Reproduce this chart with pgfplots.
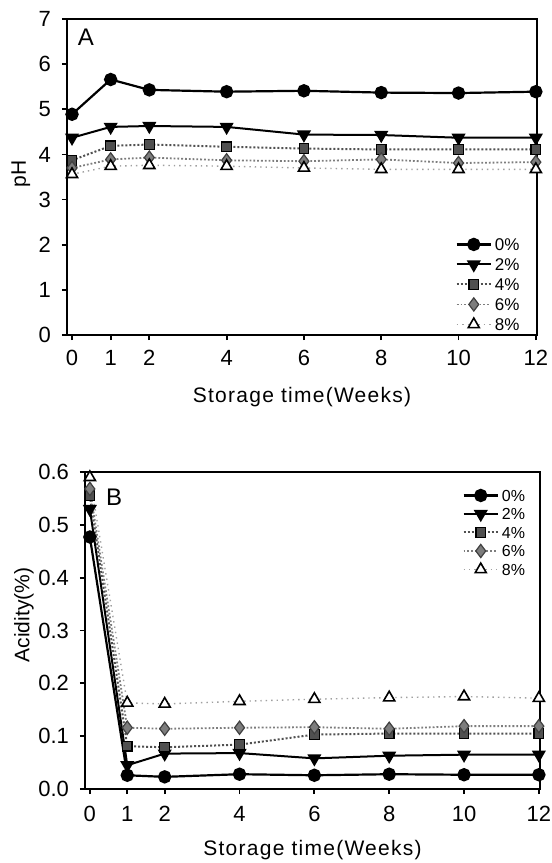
\documentclass[border=0pt]{standalone}
\usepackage{fontspec}
\setmainfont{Liberation Sans}
\newfontfamily\spaced[LetterSpace=6]{Liberation Sans}
\usepackage{pgfplots}
\usepackage{pgfplotstable}
\pgfplotsset{compat=1.18}

% pH over storage time
\pgfplotstableread{
week p0   p2   p4   p6   p8
0    4.89 4.37 3.87 3.70 3.56
1    5.66 4.61 4.19 3.89 3.74
2    5.43 4.63 4.22 3.93 3.76
4    5.39 4.61 4.17 3.87 3.74
6    5.41 4.44 4.13 3.85 3.70
8    5.37 4.43 4.11 3.89 3.67
10   5.36 4.37 4.11 3.81 3.67
12   5.39 4.37 4.11 3.83 3.67
}\phdata

% acidity over storage time
\pgfplotstableread{
week p0    p2    p4    p6    p8
0    0.477 0.530 0.555 0.568 0.590
1    0.026 0.045 0.081 0.116 0.163
2    0.023 0.067 0.079 0.114 0.161
4    0.028 0.068 0.084 0.116 0.166
6    0.026 0.058 0.103 0.117 0.170
8    0.028 0.063 0.105 0.114 0.173
10   0.027 0.065 0.105 0.119 0.175
12   0.027 0.065 0.105 0.119 0.172
}\aciddata

\definecolor{g4}{RGB}{80,80,80}
\definecolor{g6}{RGB}{125,125,125}
\definecolor{g8}{RGB}{160,160,160}

\pgfplotsset{
  panel/.style={
    scale only axis,
    clip=false,
    axis line style={line width=1.4pt},
    tick align=outside,
    xtick pos=left, ytick pos=left,
    major tick length=2.5pt,
    every tick/.style={black, line width=0.9pt},
    xtick={0,1,2,4,6,8,10,12},
    xmax=12.03,
    xticklabel style={font=\fontsize{11}{13}\selectfont},
    yticklabel style={font=\fontsize{11}{13}\selectfont, xshift=-2pt},
    /pgf/number format/assume math mode=true,
    xlabel={\spaced Storage time(Weeks)},
    xlabel style={font=\fontsize{10.5}{12}\selectfont},
    ylabel style={font=\fontsize{10.5}{12}\selectfont},
    legend cell align=left,
  },
  s0/.style={black, line width=1.1pt, mark=*, mark size=2.8pt},
  s2/.style={black, line width=1.0pt, mark=triangle*,
    mark options={rotate=180}, mark size=3.1pt},
  s4/.style={g4, line width=1.0pt, densely dotted,
    mark=square*, mark size=2.4pt,
    mark options={solid, fill=g4, draw=black, line width=0.6pt}},
  s6/.style={g6, line width=0.9pt, densely dotted,
    mark=diamond*, mark size=3.3pt,
    mark options={solid, fill=g6, draw=black!75, line width=0.6pt}},
  s8/.style={g8, line width=0.7pt, dotted,
    mark=triangle*, mark size=3.2pt,
    mark options={solid, fill=white, draw=black, line width=0.8pt}},
}

\begin{document}
\begin{tikzpicture}
\useasboundingbox (0,0) rectangle (276pt,-431.5pt);

\begin{axis}[panel,
  at={(33.5pt,-167.5pt)}, anchor=south west,
  width=235pt, height=158pt,
  xmin=-0.13, ymin=0, ymax=7,
  ytick={0,1,...,7},
  xticklabel style={yshift=-1.5pt},
  xlabel style={at={(axis description cs:0.5,-0.196)}, anchor=center},
  ylabel={pH},
  ylabel style={at={(axis description cs:-0.098,0.51)}, anchor=center},
  legend style={draw=none, fill=none, inner sep=0pt, row sep=0.8pt,
    at={(rel axis cs:0.826,0.317)}, anchor=north west,
    font=\fontsize{8.5}{10}\selectfont,
    nodes={inner sep=1.5pt, text height=6.2pt, text depth=0pt}},
]
\addplot[s0] table[x=week, y=p0] {\phdata};
\addlegendentry{0\%}
\addplot[s2] table[x=week, y=p2] {\phdata};
\addlegendentry{2\%}
\addplot[s4] table[x=week, y=p4] {\phdata};
\addlegendentry{4\%}
\addplot[s6] table[x=week, y=p6] {\phdata};
\addlegendentry{6\%}
\addplot[s8] table[x=week, y=p8] {\phdata};
\addlegendentry{8\%}
\node[font=\fontsize{12}{14}\selectfont] at (rel axis cs:0.04,0.943) {A};
\end{axis}

\begin{axis}[panel,
  at={(42.5pt,-394.5pt)}, anchor=south west,
  width=227.5pt, height=158.5pt,
  xmin=-0.13, ymin=0, ymax=0.6,
  ytick={0,0.1,...,0.6},
  yticklabel style={/pgf/number format/.cd, fixed, fixed zerofill, precision=1},
  xticklabel style={yshift=-2.5pt},
  xlabel style={at={(axis description cs:0.5,-0.192)}, anchor=center},
  ylabel={Acidity(\%)},
  ylabel style={at={(axis description cs:-0.134,0.549)}, anchor=center},
  legend style={draw=none, fill=none, inner sep=0pt, row sep=0.45pt,
    at={(rel axis cs:0.829,0.955)}, anchor=north west,
    font=\fontsize{8}{9.5}\selectfont,
    nodes={inner sep=1.5pt, text height=5.8pt, text depth=0pt}},
]
\addplot[s0] table[x=week, y=p0] {\aciddata};
\addlegendentry{0\%}
\addplot[s2] table[x=week, y=p2] {\aciddata};
\addlegendentry{2\%}
\addplot[s4] table[x=week, y=p4] {\aciddata};
\addlegendentry{4\%}
\addplot[s6] table[x=week, y=p6] {\aciddata};
\addlegendentry{6\%}
\addplot[s8] table[x=week, y=p8] {\aciddata};
\addlegendentry{8\%}
\node[font=\fontsize{12}{14}\selectfont] at (rel axis cs:0.064,0.921) {B};
\end{axis}
\end{tikzpicture}
\end{document}
